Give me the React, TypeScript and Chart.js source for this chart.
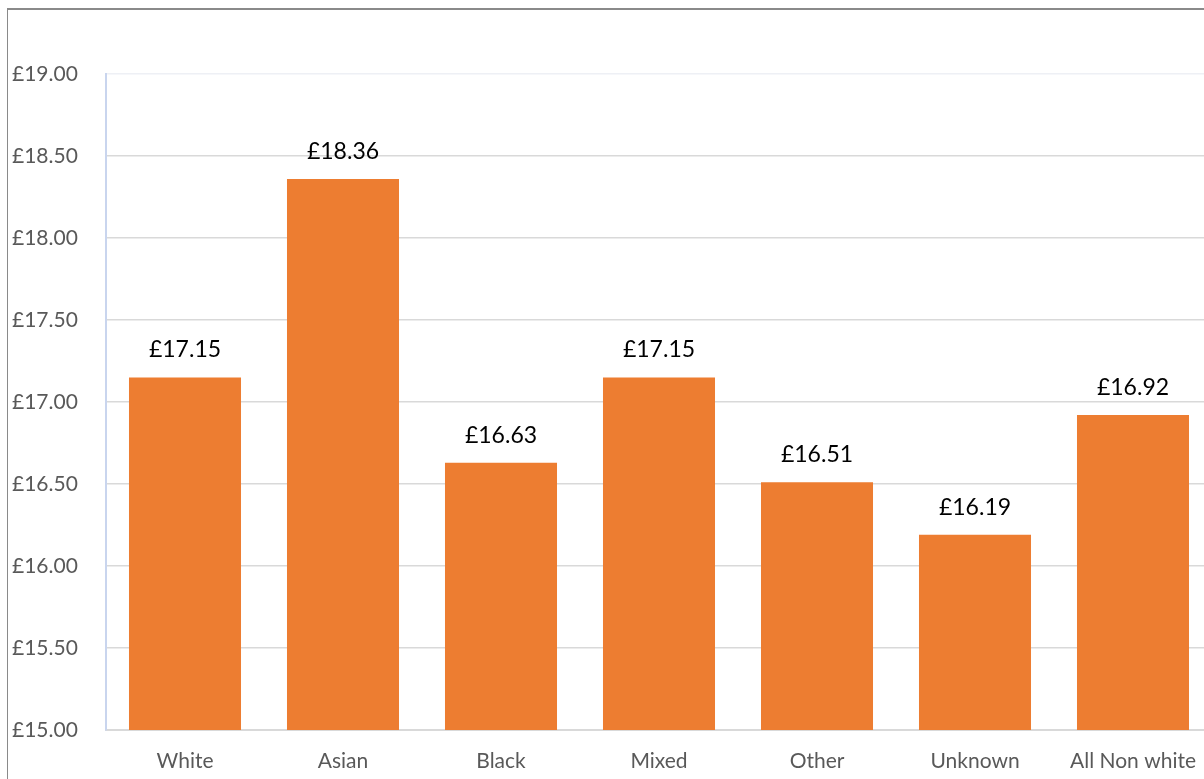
import React, { useEffect, useRef } from "react";
import { Chart, registerables } from "chart.js";

Chart.register(...registerables);

const categories = ["White", "Asian", "Black", "Mixed", "Other", "Unknown", "All Non white"];
const payValues = [17.15, 18.36, 16.63, 17.15, 16.51, 16.19, 16.92];
const yMin = 15;
const yMax = 19;
const yStep = 0.5;

const FONT = "Lato, 'Open Sans', sans-serif";

const valueLabels = {
  id: "valueLabels",
  afterDatasetsDraw(chart: any) {
    const ctx = chart.ctx;
    const meta = chart.getDatasetMeta(0);
    ctx.save();
    ctx.font = `23px ${FONT}`;
    ctx.fillStyle = "#000000";
    ctx.textAlign = "center";
    ctx.textBaseline = "alphabetic";
    meta.data.forEach((bar: any, i: number) => {
      ctx.fillText("£" + payValues[i].toFixed(2), bar.x, bar.y - 20);
    });
    ctx.restore();
  },
};

export default function App() {
  const ref = useRef<HTMLCanvasElement | null>(null);
  useEffect(() => {
    if (!ref.current) return;
    const chart = new Chart(ref.current, {
      type: "bar",
      data: {
        labels: categories,
        datasets: [
          {
            data: payValues,
            backgroundColor: "#ED7D31",
            borderWidth: 0,
            categoryPercentage: 1,
            barPercentage: 0.709,
          },
        ],
      },
      options: {
        animation: false,
        responsive: false,
        layout: { padding: { left: 12, top: 74, right: 18, bottom: 20 } },
        plugins: { legend: { display: false }, tooltip: { enabled: false } },
        scales: {
          x: {
            grid: { display: false, drawTicks: false },
            border: { color: "#d9d9d9", width: 2 },
            ticks: {
              color: "#595959",
              font: { family: FONT, size: 21 },
              padding: 19,
              maxRotation: 0,
              autoSkip: false,
            },
            afterFit(scale: any) {
              scale.height = 50;
            },
          },
          y: {
            min: yMin,
            max: yMax,
            grid: {
              drawTicks: false,
              color: (c: any) => (c.tick && c.tick.value === yMax ? "#eef0f5" : "#d9d9d9"),
              lineWidth: 1.5,
            },
            border: { color: "#c9d5ee", width: 2 },
            ticks: {
              stepSize: yStep,
              color: "#595959",
              font: { family: FONT, size: 21 },
              crossAlign: "far",
              callback: (v: any) => "£" + Number(v).toFixed(2),
            },
            afterFit(scale: any) {
              scale.width = 94;
            },
          },
        },
      },
      plugins: [valueLabels],
    });
    return () => chart.destroy();
  }, []);

  return (
    <div
      style={{
        position: "fixed",
        left: 0,
        top: 0,
        width: 1204,
        height: 779,
        overflow: "hidden",
        background: "#ffffff",
      }}
    >
      <div
        style={{
          position: "absolute",
          left: 7,
          top: 8,
          width: 1400,
          height: 1000,
          borderTop: "2px solid #8a8a8a",
          borderLeft: "1px solid #8a8a8a",
        }}
      />
      <canvas
        ref={ref}
        width={1230}
        height={800}
        style={{ position: "absolute", left: 0, top: 0 }}
      />
    </div>
  );
}
